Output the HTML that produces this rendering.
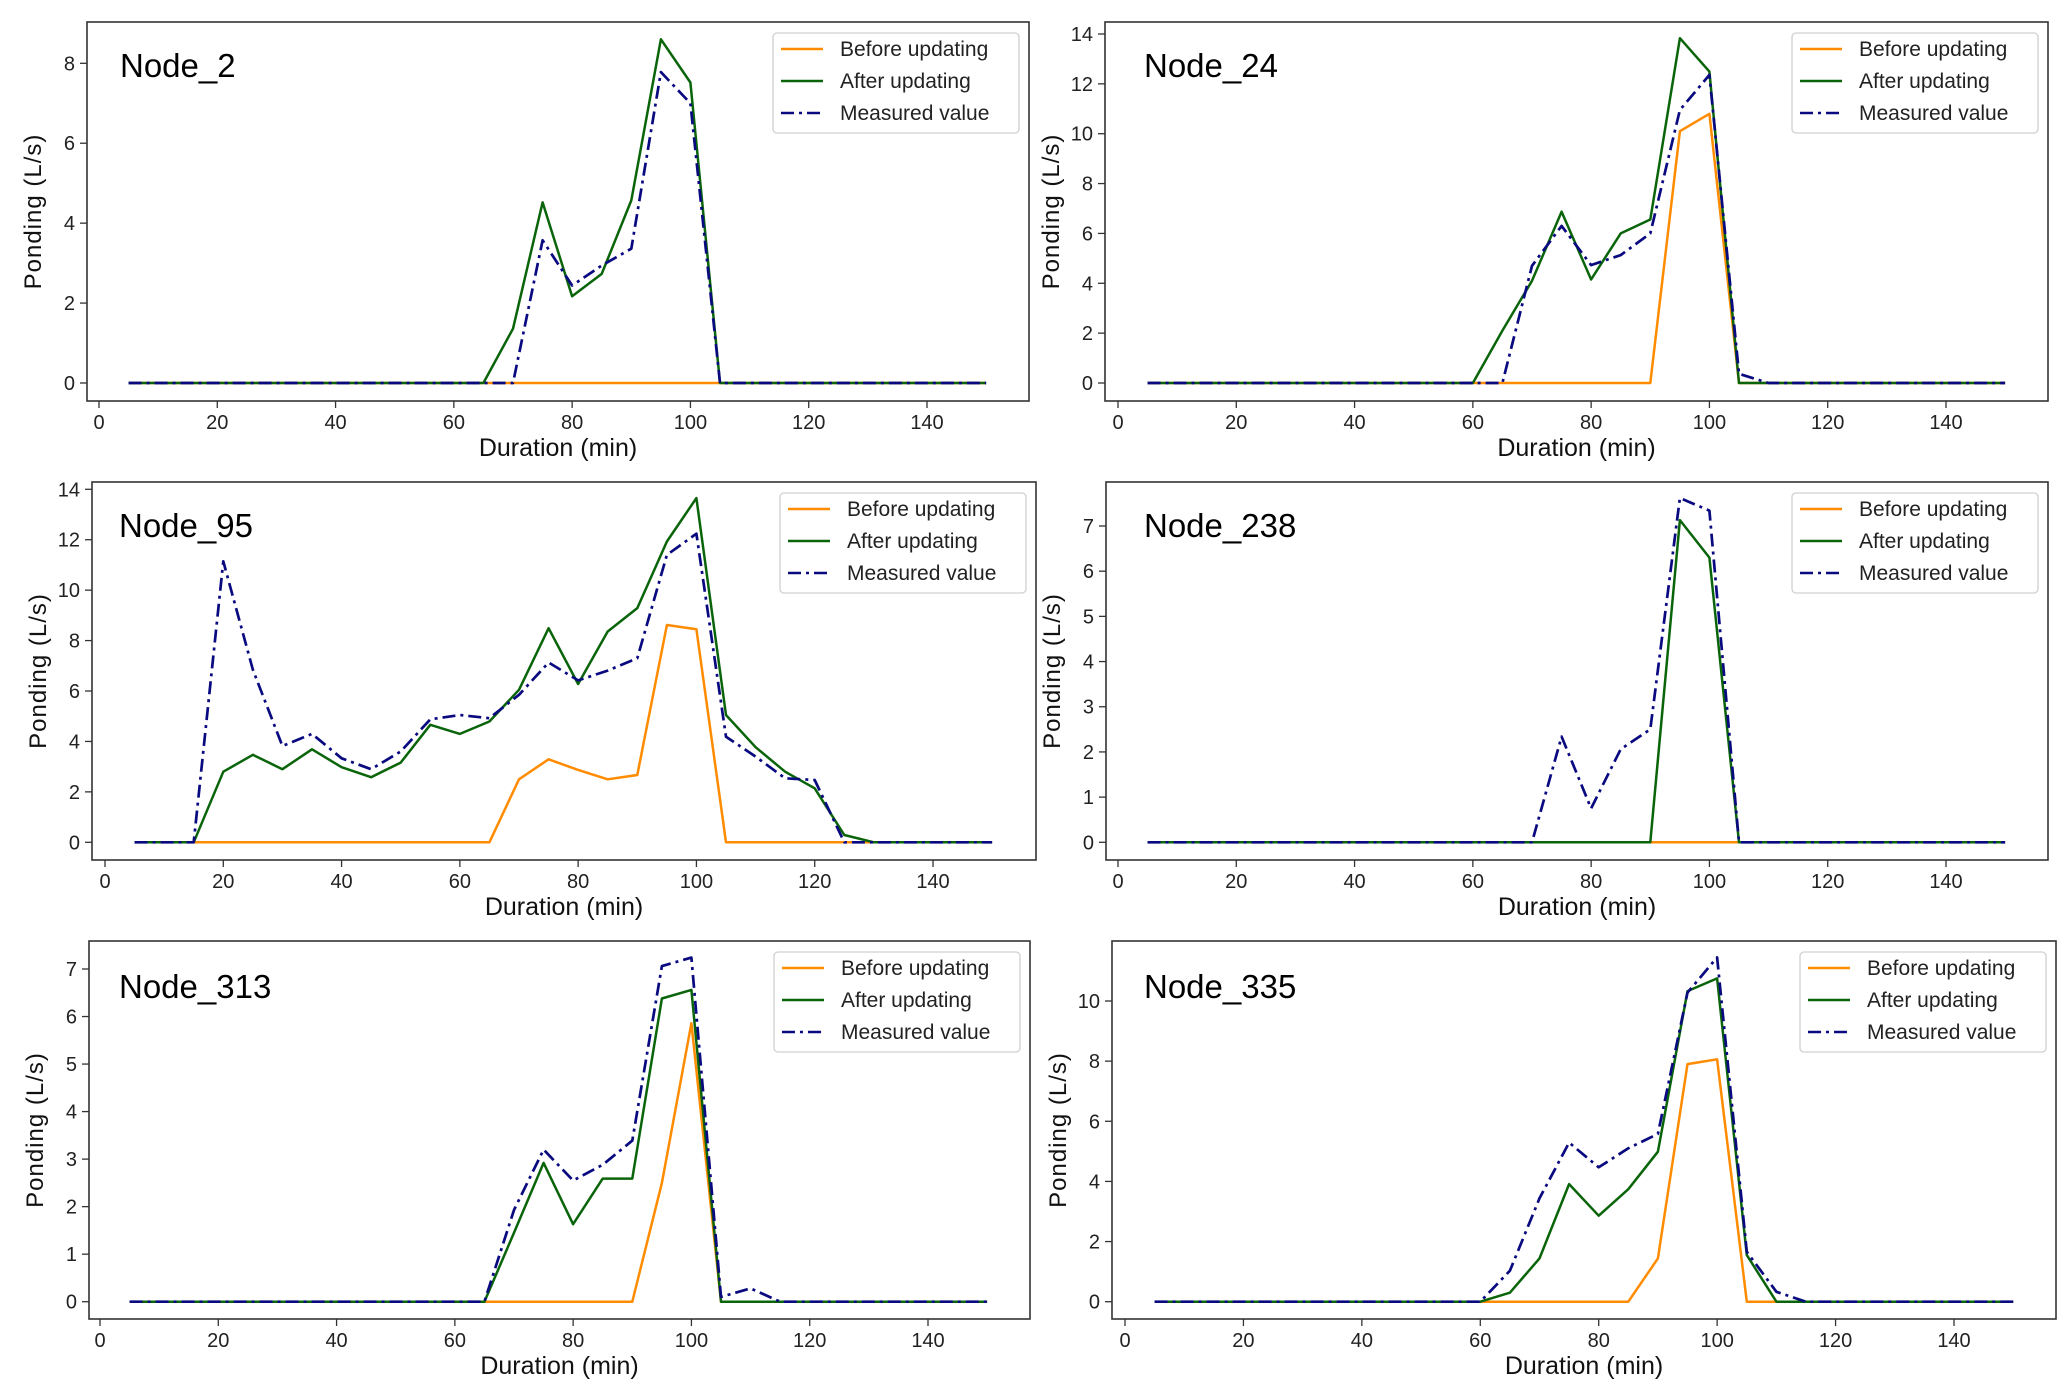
<!DOCTYPE html>
<html><head><meta charset="utf-8"><style>
html,body{margin:0;padding:0;background:#fff;}
svg{display:block;font-family:"Liberation Sans",Arial,sans-serif;}
</style></head>
<body>
<svg id="chart" width="2067" height="1400" viewBox="0 0 2067 1400" xmlns="http://www.w3.org/2000/svg"></svg>
<script>
const durations = [5,10,15,20,25,30,35,40,45,50,55,60,65,70,75,80,85,90,95,100,105,110,115,120,125,130,135,140,145,150];
const xTicks = [0,20,40,60,80,100,120,140];
const nodeNames = ["Node_2","Node_24","Node_95","Node_238","Node_313","Node_335"];
const yTicks2 = [0,2,4,6,8];
const yTicks24 = [0,2,4,6,8,10,12,14];
const yTicks95 = [0,2,4,6,8,10,12,14];
const yTicks238 = [0,1,2,3,4,5,6,7];
const yTicks313 = [0,1,2,3,4,5,6,7];
const yTicks335 = [0,2,4,6,8,10];
// Node_2
const before2 = [0,0,0,0,0,0,0,0,0,0,0,0,0,0,0,0,0,0,0,0,0,0,0,0,0,0,0,0,0,0];
const after2 = [0,0,0,0,0,0,0,0,0,0,0,0,0,1.36,4.52,2.17,2.73,4.57,8.6,7.52,0,0,0,0,0,0,0,0,0,0];
const measured2 = [0,0,0,0,0,0,0,0,0,0,0,0,0,0,3.57,2.44,2.94,3.36,7.78,7.0,0,0,0,0,0,0,0,0,0,0];
// Node_24
const before24 = [0,0,0,0,0,0,0,0,0,0,0,0,0,0,0,0,0,0,10.1,10.8,0,0,0,0,0,0,0,0,0,0];
const after24 = [0,0,0,0,0,0,0,0,0,0,0,0,2.1,4.1,6.87,4.15,6.0,6.56,13.83,12.49,0,0,0,0,0,0,0,0,0,0];
const measured24 = [0,0,0,0,0,0,0,0,0,0,0,0,0,4.7,6.3,4.73,5.13,6.0,10.95,12.36,0.37,0,0,0,0,0,0,0,0,0];
// Node_95
const before95 = [0,0,0,0,0,0,0,0,0,0,0,0,0,2.5,3.29,2.87,2.5,2.67,8.62,8.45,0,0,0,0,0,0,0,0,0,0];
const after95 = [0,0,0,2.8,3.47,2.9,3.69,2.98,2.58,3.16,4.66,4.3,4.79,6.05,8.49,6.28,8.36,9.29,11.93,13.65,5.05,3.77,2.8,2.14,0.29,0,0,0,0,0];
const measured95 = [0,0,0,11.14,6.84,3.82,4.3,3.33,2.9,3.6,4.88,5.05,4.92,5.85,7.13,6.42,6.81,7.3,11.4,12.24,4.19,3.4,2.54,2.47,0,0,0,0,0,0];
// Node_238
const before238 = [0,0,0,0,0,0,0,0,0,0,0,0,0,0,0,0,0,0,0,0,0,0,0,0,0,0,0,0,0,0];
const after238 = [0,0,0,0,0,0,0,0,0,0,0,0,0,0,0,0,0,0,7.13,6.3,0,0,0,0,0,0,0,0,0,0];
const measured238 = [0,0,0,0,0,0,0,0,0,0,0,0,0,0,2.34,0.75,2.06,2.5,7.62,7.34,0,0,0,0,0,0,0,0,0,0];
// Node_313
const before313 = [0,0,0,0,0,0,0,0,0,0,0,0,0,0,0,0,0,0,2.5,5.86,0,0,0,0,0,0,0,0,0,0];
const after313 = [0,0,0,0,0,0,0,0,0,0,0,0,0,1.45,2.92,1.63,2.59,2.59,6.38,6.56,0,0,0,0,0,0,0,0,0,0];
const measured313 = [0,0,0,0,0,0,0,0,0,0,0,0,0,1.93,3.2,2.55,2.88,3.39,7.06,7.24,0.1,0.28,0,0,0,0,0,0,0,0];
// Node_335
const before335 = [0,0,0,0,0,0,0,0,0,0,0,0,0,0,0,0,0,1.44,7.9,8.06,0,0,0,0,0,0,0,0,0,0];
const after335 = [0,0,0,0,0,0,0,0,0,0,0,0,0.3,1.44,3.91,2.86,3.74,4.99,10.33,10.75,1.55,0,0,0,0,0,0,0,0,0];
const measured335 = [0,0,0,0,0,0,0,0,0,0,0,0,1.03,3.44,5.29,4.47,5.1,5.58,10.28,11.45,1.66,0.33,0,0,0,0,0,0,0,0];

const legendLabels = ["Before updating","After updating","Measured value"];

const NS = "http://www.w3.org/2000/svg";
const svg = document.getElementById("chart");
function mk(tag, attrs, parent){ const e=document.createElementNS(NS,tag); for(const k in attrs) e.setAttribute(k,attrs[k]); (parent||svg).appendChild(e); return e; }

const layouts = [
 {L:87,R:1029,T:22,B:401,x0:99,x140:927,y0:383,yt:63.3,lx:120,ly:77},
 {L:1105,R:2048,T:22,B:401,x0:1118,x140:1946,y0:383,yt:34,lx:1144,ly:77},
 {L:92,R:1036,T:482,B:860,x0:105,x140:933,y0:842.3,yt:489.3,lx:119,ly:537},
 {L:1106,R:2048,T:482,B:860,x0:1118,x140:1946,y0:842.3,yt:526,lx:1144,ly:537},
 {L:89,R:1030,T:941,B:1319,x0:100,x140:928,y0:1301.7,yt:969,lx:119,ly:998},
 {L:1112,R:2056,T:941,B:1319,x0:1125,x140:1954,y0:1301.7,yt:1001,lx:1144,ly:998}
];
const panels = [
 [yTicks2,before2,after2,measured2],
 [yTicks24,before24,after24,measured24],
 [yTicks95,before95,after95,measured95],
 [yTicks238,before238,after238,measured238],
 [yTicks313,before313,after313,measured313],
 [yTicks335,before335,after335,measured335]
];
const colors = ["#ff8c00","#0a640a","#0a0a80"];

panels.forEach((p,i)=>{
  const lay = layouts[i];
  const [yt, bef, aft, meas] = p;
  const ytop = yt[yt.length-1];
  const xs = v => lay.x0 + (v/140)*(lay.x140-lay.x0);
  const ys = v => lay.y0 - (v/ytop)*(lay.y0-lay.yt);
  const g = mk("g",{});
  
  
  const fr = mk("rect",{x:lay.L,y:lay.T,width:lay.R-lay.L,height:lay.B-lay.T,fill:"#fff",stroke:"#333",'stroke-width':1.6},g);
  
  
  xTicks.forEach(t=>{
    const x=xs(t);
    mk("line",{x1:x,x2:x,y1:lay.B,y2:lay.B+7,stroke:"#333",'stroke-width':1.3},g);
    const tx=mk("text",{x:x,y:lay.B+28,'font-size':20,'text-anchor':'middle',fill:"#222"},g);
    tx.textContent=t;
    
    
  });
  yt.forEach(t=>{
    const y=ys(t);
    mk("line",{x1:lay.L-7,x2:lay.L,y1:y,y2:y,stroke:"#333",'stroke-width':1.3},g);
    const tx=mk("text",{x:lay.L-12,y:y+7,'font-size':20,'text-anchor':'end',fill:"#222"},g);
    tx.textContent=t;
    
    
  });
  const xt=mk("text",{x:(lay.L+lay.R)/2,y:lay.B+55,'font-size':25,'text-anchor':'middle',fill:"#111"},g);
  xt.textContent="Duration (min)";
  
  
  const cy=(lay.T+lay.B)/2, cx=lay.L-46;
  const yl=mk("text",{x:cx,y:cy,'font-size':24,'text-anchor':'middle',fill:"#111",transform:`rotate(-90 ${cx} ${cy})`,'letter-spacing':'1'},g);
  yl.textContent="Ponding (L/s)";
  
  
  const nl=mk("text",{x:lay.lx,y:lay.ly,'font-size':33,fill:"#000"},g);
  nl.textContent=nodeNames[i];
  
  
  const series=[bef,aft,meas];
  const names=['before-updating-line','after-updating-line','measured-value-line'];
  series.forEach((s,k)=>{
    const pts=durations.map((d,j)=>xs(d).toFixed(1)+","+ys(s[j]).toFixed(1)).join(" ");
    const attrs={points:pts,fill:"none",stroke:colors[k],'stroke-width':k==2?2.7:2.5,'stroke-linejoin':'round'};
    if(k==2) attrs['stroke-dasharray']="13,5,3,5";
    const pl=mk("polyline",attrs,g);
    
    
  });
  const lw=246, lh=100, lxr=lay.R-10-lw, lyt=lay.T+11;
  const lg=mk("g",{},g);
  
  
  mk("rect",{x:lxr,y:lyt,width:lw,height:lh,rx:4,fill:"#fff",'fill-opacity':0.9,stroke:"#d0d0d0",'stroke-width':1.3},lg);
  legendLabels.forEach((lab,k)=>{
    const yy=lyt+16+k*32;
    const ln=mk("line",{x1:lxr+8,x2:lxr+50,y1:yy,y2:yy,stroke:colors[k],'stroke-width':2.6},lg);
    if(k==2) ln.setAttribute('stroke-dasharray',"13,5,3,5");
    const t=mk("text",{x:lxr+67,y:yy+7,'font-size':21,fill:"#222"},lg);
    t.textContent=lab;
    
    
  });
});
</script>
</body></html>
